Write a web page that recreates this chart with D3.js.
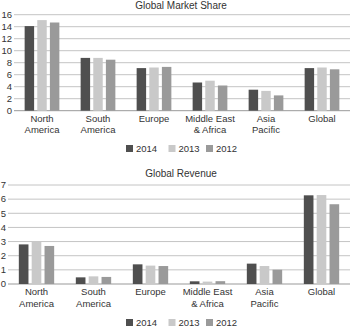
<!DOCTYPE html>
<html>
<head>
<meta charset="utf-8">
<script src="https://cdn.jsdelivr.net/npm/d3@7"></script>
<style>
  body { margin: 0; background: #fff; }
  svg { display: block; font-family: "Liberation Sans", Arial, sans-serif; }
</style>
</head>
<body>
<div id="chart"></div>
<script>
// Data
const regions = [["North", "America"], ["South", "America"], ["Europe"], ["Middle East", "& Africa"], ["Asia", "Pacific"], ["Global"]]
const years = ["2014", "2013", "2012"]
const colors = ["#4f4f4f", "#c9c9c9", "#9a9a9a"]

const share2014 = [14.1, 8.8, 7.1, 4.7, 3.5, 7.1]
const share2013 = [15.1, 8.8, 7.2, 5.0, 3.3, 7.2]
const share2012 = [14.7, 8.5, 7.3, 4.2, 2.55, 6.9]
const shareTicks = [0, 2, 4, 6, 8, 10, 12, 14, 16]

const rev2014 = [2.8, 0.47, 1.39, 0.19, 1.44, 6.27]
const rev2013 = [3.0, 0.54, 1.3, 0.17, 1.27, 6.29]
const rev2012 = [2.69, 0.5, 1.27, 0.2, 1.01, 5.64]
const revTicks = [0, 1, 2, 3, 4, 5, 6, 7]

const W = 350, H = 327
const svg = d3.select("#chart").append("svg").attr("width", W).attr("height", H)

function drawChart(cfg) {
    const g = svg.append("g")

    // title
    g.append("text")
        .attr("x", 181).attr("y", cfg.titleY)
        .attr("text-anchor", "middle")
        .style("font-size", "10px").style("fill", "#333")
        .text(cfg.title)

    const y = d3.scaleLinear().domain([0, d3.max(cfg.ticks)]).range([cfg.y0, cfg.y1])
    const x = d3.scaleBand().domain(d3.range(regions.length)).range([cfg.left, W]).padding(0)
    const xi = d3.scaleBand().domain(years).range([0, x.bandwidth() * 0.62]).paddingInner(0.25)
    const off = (x.bandwidth() - xi.range()[1]) / 2

    // gridlines
    g.selectAll(".grid").data(cfg.ticks).join("line")
        .attr("x1", cfg.left).attr("x2", W)
        .attr("y1", d => y(d)).attr("y2", d => y(d))
        .style("stroke", d => d === 0 ? "#999" : "#c4c4c4").style("stroke-width", 1)

    // tick labels
    g.selectAll(".tick").data(cfg.ticks).join("text")
        .attr("x", cfg.left - 2).attr("y", d => y(d)).attr("dy", "0.35em")
        .attr("text-anchor", "end")
        .style("font-size", "9.5px").style("fill", "#333")
        .text(d => d)

    // bars
    const series = cfg.series
    regions.forEach((r, i) => {
        years.forEach((yr, j) => {
            g.append("rect")
                .attr("x", x(i) + off + xi(yr))
                .attr("width", xi.bandwidth())
                .attr("y", y(series[j][i]))
                .attr("height", y(0) - y(series[j][i]))
                .style("fill", colors[j])
        })
        const lbl = g.append("text")
            .attr("x", x(i) + x.bandwidth() / 2).attr("y", cfg.y0 + 11)
            .attr("text-anchor", "middle")
            .style("font-size", "9.5px").style("fill", "#333")
        r.forEach((line, k) => {
            lbl.append("tspan").attr("x", x(i) + x.bandwidth() / 2).attr("dy", k === 0 ? 0 : 11.5).text(line)
        })
    })

    // legend
    const legX = [126, 168.5, 206]
    years.forEach((yr, j) => {
        g.append("rect")
            .attr("x", legX[j]).attr("y", cfg.legY - 7)
            .attr("width", 7).attr("height", 7)
            .style("fill", colors[j])
        g.append("text")
            .attr("x", legX[j] + 10).attr("y", cfg.legY)
            .style("font-size", "9.5px").style("fill", "#333")
            .text(yr)
    })
}

drawChart({
    title: "Global Market Share", titleY: 8.5,
    ticks: shareTicks, series: [share2014, share2013, share2012],
    y0: 110.7, y1: 14.7, left: 14, legY: 152
})

drawChart({
    title: "Global Revenue", titleY: 177,
    ticks: revTicks, series: [rev2014, rev2013, rev2012],
    y0: 284, y1: 185, left: 8, legY: 326
})
</script>
</body>
</html>
